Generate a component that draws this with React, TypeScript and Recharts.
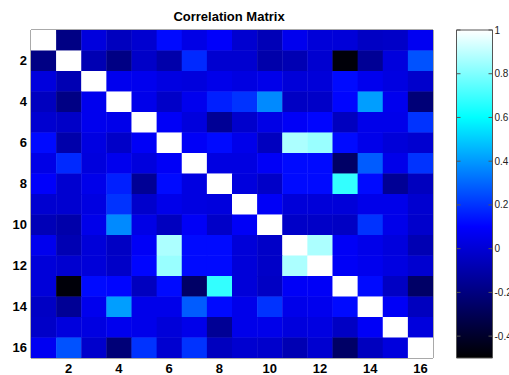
import { ComposedChart, Scatter, XAxis, YAxis, ReferenceArea } from 'recharts'

const N = 16
const title = 'Correlation Matrix'

// upper triangle of the matrix: row i holds columns i+1..16
const upperRows: number[][] = [
  [-0.19, 0.02, -0.05, -0.01, 0.12, 0.04, 0.09, -0.01, -0.07, 0.06, 0.01, 0.01, -0.04, -0.03, 0.07],
  [-0.08, -0.19, -0.03, -0.1, 0.18, -0.01, -0.01, -0.1, -0.08, -0.01, -0.48, -0.15, 0.02, 0.26],
  [0.06, 0.06, 0.03, 0.02, 0.05, 0.03, 0.05, 0.01, 0.01, 0.12, 0.06, 0.03, -0.02],
  [0.05, -0.03, 0.06, 0.16, 0.2, 0.37, -0.04, -0.03, 0.11, 0.41, 0.06, -0.22],
  [0.08, 0.02, -0.15, -0.02, 0.04, 0.08, 0.11, -0.05, 0.05, 0.05, 0.2],
  [0.08, 0.12, 0.05, -0.05, 0.87, 0.84, 0.12, 0.05, 0.01, -0.01],
  [0.03, 0.03, 0.08, 0.12, 0.12, -0.26, 0.28, 0.05, 0.2],
  [0.02, -0.03, 0.12, 0.12, 0.68, 0.12, -0.15, -0.05],
  [0.08, 0.01, 0.01, 0.01, 0.05, 0.05, -0.01],
  [-0.03, -0.03, -0.04, 0.2, 0.05, -0.02],
  [0.87, 0.08, 0.05, 0.02, -0.08],
  [0.08, 0.06, 0.03, -0.01],
  [0.12, -0.04, -0.26],
  [0.08, -0.05],
  [0.02],
]

const axisTicks = [2, 4, 6, 8, 10, 12, 14, 16]
const cbarTicks = [1, 0.8, 0.6, 0.4, 0.2, 0, -0.2, -0.4]
const cbarMin = -0.5
const cbarMax = 1

// colormap anchors, top of the bar first: white -> cyan -> blue -> black
const cmapAt = [1, 0.6, 0.1, -0.5]
const cmapRgb = [
  [255, 255, 255],
  [0, 255, 255],
  [0, 0, 255],
  [0, 0, 0],
]

function colorFor(v: number): string {
  const t = Math.min(cmapAt[0], Math.max(cmapAt[cmapAt.length - 1], v))
  let i = 0
  while (i < cmapAt.length - 2 && t < cmapAt[i + 1]) i++
  const f = (cmapAt[i] - t) / (cmapAt[i] - cmapAt[i + 1])
  const c = cmapRgb[i].map((a, k) => Math.round(a + (cmapRgb[i + 1][k] - a) * f))
  return `rgb(${c[0]},${c[1]},${c[2]})`
}

function valueAt(r: number, c: number): number {
  if (r === c) return 1
  const a = Math.min(r, c)
  const b = Math.max(r, c)
  return upperRows[a - 1][b - a - 1]
}

const cells: { row: number; col: number; v: number }[] = []
for (let r = 1; r <= N; r++) {
  for (let c = 1; c <= N; c++) {
    cells.push({ row: r, col: c, v: valueAt(r, c) })
  }
}

const W = 440
const H = 375
// plot box: x 31..433, y 30..358
const plotL = 31
const plotR = 7
const plotT = 30
const plotB = 17
const cellW = (W - plotL - plotR) / N
const cellH = (H - plotT - plotB) / N

const frame = '#555'
const boldTick = { fontSize: 13, fontWeight: 700, fill: '#000' }
const noLabel = () => <g />

const CellShape = (p: any) => (
  <rect
    x={p.cx - cellW / 2}
    y={p.cy - cellH / 2}
    width={cellW + 0.4}
    height={cellH + 0.4}
    fill={colorFor(p.payload.v)}
  />
)

function HeatMap(): JSX.Element {
  return (
    <ComposedChart
      width={W}
      height={H}
      data={cells}
      margin={{ top: plotT - 1, right: plotR - 1, bottom: 0, left: 0 }}
    >
      <Scatter
        xAxisId="b"
        yAxisId="l"
        dataKey="row"
        data={cells}
        shape={CellShape}
        isAnimationActive={false}
      />
      <XAxis
        xAxisId="b"
        dataKey="col"
        type="number"
        domain={[0.5, N + 0.5]}
        ticks={axisTicks}
        interval={0}
        height={plotB}
        tickSize={-4}
        tickMargin={10}
        tick={boldTick}
        axisLine={{ stroke: frame }}
        tickLine={{ stroke: frame }}
        allowDataOverflow
      />
      <XAxis
        xAxisId="t"
        orientation="top"
        type="number"
        domain={[0.5, N + 0.5]}
        ticks={axisTicks}
        interval={0}
        height={1}
        tickSize={-4}
        tick={noLabel}
        axisLine={{ stroke: frame }}
        tickLine={{ stroke: frame }}
        allowDataOverflow
      />
      <YAxis
        yAxisId="l"
        dataKey="row"
        type="number"
        reversed
        domain={[0.5, N + 0.5]}
        ticks={axisTicks}
        interval={0}
        width={plotL}
        tickSize={-4}
        tickMargin={8}
        tick={boldTick}
        axisLine={{ stroke: frame }}
        tickLine={{ stroke: frame }}
        allowDataOverflow
      />
      <YAxis
        yAxisId="r"
        orientation="right"
        type="number"
        reversed
        domain={[0.5, N + 0.5]}
        ticks={axisTicks}
        interval={0}
        width={1}
        tickSize={-4}
        tick={noLabel}
        axisLine={{ stroke: frame }}
        tickLine={{ stroke: frame }}
        allowDataOverflow
      />
    </ComposedChart>
  )
}

const cbarData = [{ x: 0.5, y: cbarMax }]

function ColorBar(): JSX.Element {
  const span = cbarMax - cbarMin
  return (
    <ComposedChart width={140} height={H} data={cbarData} margin={{ top: plotT - 1, right: 47.5, bottom: plotB - 1, left: 15.5 }}>
      <defs>
        <linearGradient id="cbarGrad" x1="0" y1="0" x2="0" y2="1">
          {cmapAt.map((v, i) => (
            <stop
              key={v}
              offset={`${((cbarMax - v) / span) * 100}%`}
              stopColor={`rgb(${cmapRgb[i].join(',')})`}
            />
          ))}
        </linearGradient>
      </defs>
      <ReferenceArea
        xAxisId="b"
        yAxisId="l"
        x1={0}
        x2={1}
        y1={cbarMin}
        y2={cbarMax}
        fill="url(#cbarGrad)"
        fillOpacity={1}
        stroke="none"
        ifOverflow="visible"
      />
      <Scatter xAxisId="b" yAxisId="l" dataKey="y" shape={noLabel} isAnimationActive={false} />
      <XAxis xAxisId="b" dataKey="x" type="number" domain={[0, 1]} height={1} tick={false} axisLine={{ stroke: frame }} />
      <XAxis xAxisId="t" orientation="top" type="number" domain={[0, 1]} height={1} tick={false} axisLine={{ stroke: frame }} />
      <YAxis
        yAxisId="l"
        dataKey="y"
        type="number"
        domain={[cbarMin, cbarMax]}
        ticks={cbarTicks}
        interval={0}
        width={1}
        tickSize={-4}
        tick={noLabel}
        axisLine={{ stroke: frame }}
        tickLine={{ stroke: frame }}
        allowDataOverflow
      />
      <YAxis
        yAxisId="r"
        orientation="right"
        type="number"
        domain={[cbarMin, cbarMax]}
        ticks={cbarTicks}
        interval={0}
        width={40}
        tickSize={-4}
        tickMargin={6}
        tick={{ fontSize: 10, fill: '#222' }}
        axisLine={{ stroke: frame }}
        tickLine={{ stroke: frame }}
        allowDataOverflow
      />
    </ComposedChart>
  )
}

export default function App(): JSX.Element {
  return (
    <div
      style={{
        position: 'absolute',
        left: 0,
        top: 0,
        width: 509,
        height: 375,
        overflow: 'hidden',
        background: '#fff',
        fontFamily: '"Liberation Sans", Arial, sans-serif',
      }}
    >
      <div
        style={{
          position: 'absolute',
          left: 0,
          top: 9,
          width: 458,
          textAlign: 'center',
          fontSize: 13,
          fontWeight: 700,
          lineHeight: '16px',
        }}
      >
        {title}
      </div>
      <div style={{ position: 'absolute', left: 0, top: 0 }}>
        <HeatMap />
      </div>
      <div style={{ position: 'absolute', left: 440, top: 0 }}>
        <ColorBar />
      </div>
    </div>
  )
}
